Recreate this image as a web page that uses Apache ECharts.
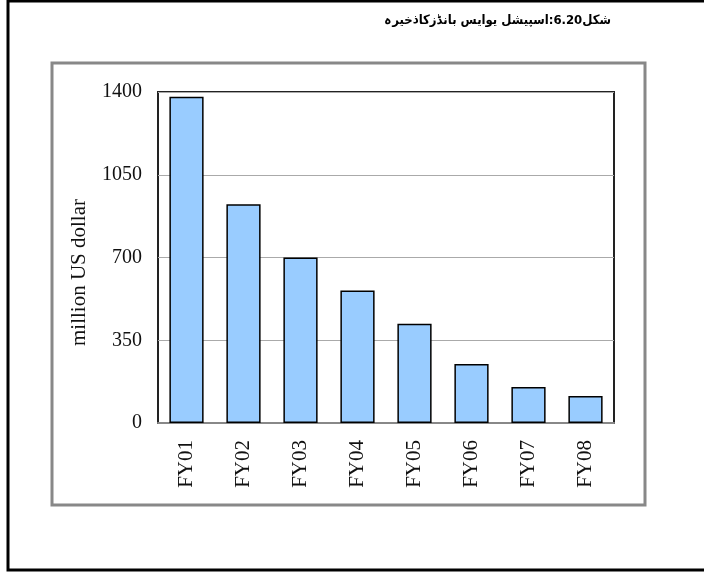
<!DOCTYPE html>
<html>
<head>
<meta charset="utf-8">
<script src="https://cdn.jsdelivr.net/npm/echarts@6/dist/echarts.min.js"></script>
<style>
  html, body { margin: 0; padding: 0; background: #fff; }
  #chart { width: 704px; height: 574px; }
</style>
</head>
<body>
<div id="chart"></div>
<script>
const categories = ['FY01', 'FY02', 'FY03', 'FY04', 'FY05', 'FY06', 'FY07', 'FY08']
const reserves = [1380, 925, 700, 560, 420, 250, 152, 114]
const yTicks = { min: 0, max: 1400, interval: 350 }
const title = '\u202Bشکل6.20:اسپیشل یوایس بانڈزکاذخیرہ\u202C'
const yName = 'million US dollar'

const SERIF = '"Liberation Serif", "DejaVu Serif", serif'

const chart = echarts.init(document.getElementById('chart'), null, { renderer: 'canvas' })

chart.setOption({
  animation: false,
  backgroundColor: '#fff',
  graphic: [
    // outer page border
    { type: 'rect', shape: { x: 8, y: 1, width: 710, height: 569 },
      style: { fill: 'none', stroke: '#000', lineWidth: 3 }, z: 0 },
    // chart frame
    { type: 'rect', shape: { x: 52, y: 63, width: 593, height: 442 },
      style: { fill: 'none', stroke: '#888', lineWidth: 3 }, z: 0 },
    { type: 'text', right: 93, top: 14,
      style: { text: title, font: 'bold 13px "DejaVu Sans Condensed", "DejaVu Sans", sans-serif', fill: '#000' } },
  ],
  grid: {
    left: 158, right: 90, top: 92, bottom: 151,
    show: true, borderColor: '#222', borderWidth: 2,
  },
  xAxis: {
    type: 'category',
    data: categories,
    axisLine: { lineStyle: { color: '#888', width: 2 } },
    axisTick: { show: false },
    axisLabel: {
      rotate: 90, margin: 17, color: '#111',
      fontFamily: SERIF, fontSize: 21,
    },
  },
  yAxis: {
    type: 'value',
    ...yTicks,
    name: yName,
    nameLocation: 'middle',
    nameGap: 68,
    nameRotate: 90,
    nameTextStyle: { color: '#111', fontFamily: SERIF, fontSize: 21, padding: [0, 30, 0, 0] },
    axisLine: { show: false },
    axisTick: { show: false },
    axisLabel: { margin: 16, color: '#111', fontFamily: SERIF, fontSize: 20, formatter: v => String(v) },
    splitLine: { lineStyle: { color: '#aaa', width: 1 } },
  },
  series: [{
    type: 'bar',
    data: reserves,
    barCategoryGap: '40%',
    itemStyle: { color: '#99ccff', borderColor: '#000', borderWidth: 1.5 },
  }],
})
</script>
</body>
</html>
